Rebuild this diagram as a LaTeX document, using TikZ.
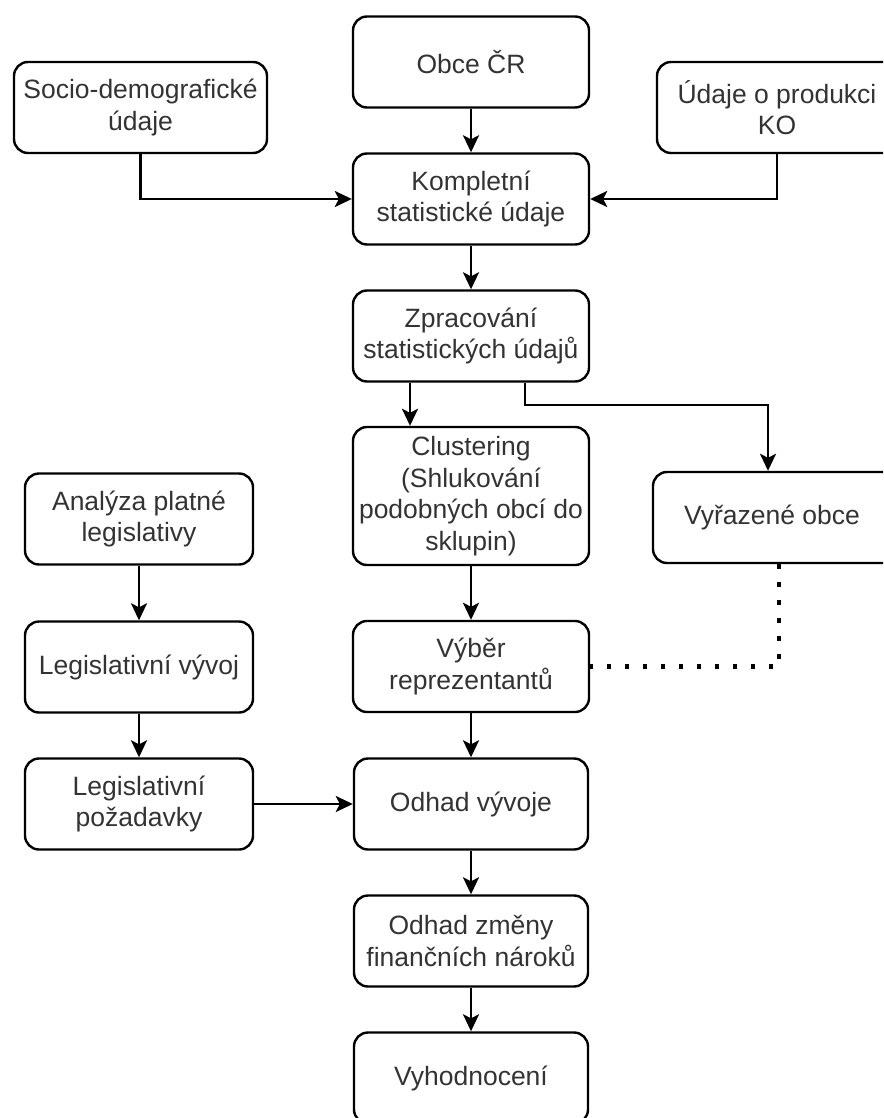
\documentclass[tikz,border=0pt]{standalone}
\usepackage{fontspec}
\setmainfont{Liberation Sans}
\usetikzlibrary{arrows.meta}

\begin{document}
\begin{tikzpicture}[x=1pt, y=-1pt,
    box/.style={draw, line width=2.4pt, rounded corners=14pt, align=center, minimum height=91pt,
        inner sep=2pt, text=black!80, font=\fontsize{26.5}{31.5}\selectfont},
    flow/.style={line width=2.4pt, -{Stealth[length=17pt, width=16pt, inset=4pt]}},
    link/.style={line width=4.5pt, dash pattern=on 4.5pt off 13.5pt}]
    \useasboundingbox (0,0) rectangle (883,1118);
    \clip (0,0) rectangle (883,1118);
    \node[box, minimum width=236pt] (obce) at (471,62) {Obce ČR};
    \node[box, minimum width=253pt] (socio) at (140.5,107.5) {Socio-demografické\\údaje};
    \node[box, minimum width=256pt] (udaje) at (785,107.5) {\hspace*{-16pt}Údaje o produkci\\\hspace*{-16pt}KO};
    \node[box, minimum width=236pt] (kompletni) at (471,199) {Kompletní\\statistické údaje};
    \node[box, minimum width=236pt] (zpracovani) at (471,336) {Zpracování\\statistických údajů};
    \node[box, minimum width=236pt, minimum height=138pt] (clustering) at (471,496) {Clustering\\(Shlukování\\podobných obcí do\\sklupin)};
    \node[box, minimum width=256pt] (vyrazene) at (781,517.5) {\hspace*{-18pt}Vyřazené obce};
    \node[box, minimum width=228pt] (analyza) at (139,519) {Analýza platné\\legislativy};
    \node[box, minimum width=228pt] (vyvoj) at (139,667) {Legislativní vývoj};
    \node[box, minimum width=236pt] (vyber) at (471,666.5) {Výběr\\reprezentantů};
    \node[box, minimum width=228pt] (pozadavky) at (139,804) {Legislativní\\požadavky};
    \node[box, minimum width=234pt] (odhad) at (471,804) {Odhad vývoje};
    \node[box, minimum width=234pt] (zmena) at (471,941) {Odhad změny\\finančních nároků};
    \node[box, minimum width=234pt] (vyhodnoceni) at (471,1078) {Vyhodnocení};

    \draw[flow] (obce) -- (kompletni);
    \draw[flow] (socio.south) |- (kompletni.west);
    \draw[flow] ([xshift=-8pt]udaje.south) |- (kompletni.east);
    \draw[flow] (kompletni) -- (zpracovani);
    \draw[flow] ([xshift=-61pt]zpracovani.south) -- ([xshift=-61pt]clustering.north);
    \draw[flow] ([xshift=54pt]zpracovani.south) -- ++(0,22) -| ([xshift=-13pt]vyrazene.north);
    \draw[link] ([xshift=-2pt]vyrazene.south) |- (vyber.east);
    \draw[flow] (clustering) -- (vyber);
    \draw[flow] (vyber) -- (odhad);
    \draw[flow] (odhad) -- (zmena);
    \draw[flow] (zmena) -- (vyhodnoceni);
    \draw[flow] (analyza) -- (vyvoj);
    \draw[flow] (vyvoj) -- (pozadavky);
    \draw[flow] (pozadavky) -- (odhad);
\end{tikzpicture}
\end{document}
